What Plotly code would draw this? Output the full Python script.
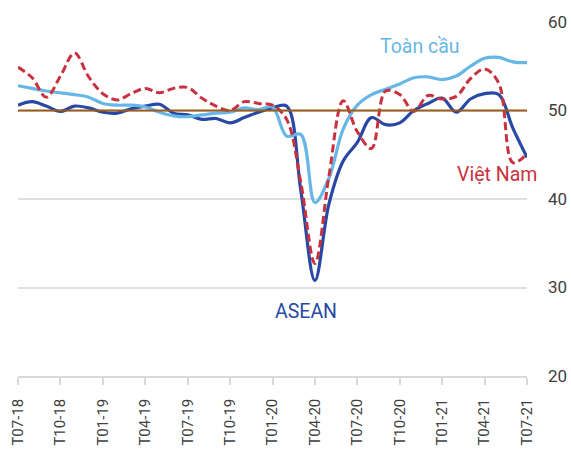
import plotly.graph_objects as go

month_idx = list(range(37))
tick_pos = list(range(0, 37, 3))
tick_labels = ["T07-18", "T10-18", "T01-19", "T04-19", "T07-19", "T10-19", "T01-20",
               "T04-20", "T07-20", "T10-20", "T01-21", "T04-21", "T07-21"]

vietnam = [54.9, 53.7, 51.5, 53.9, 56.5, 53.8, 51.9, 51.2, 51.9, 52.5, 52.0, 52.5, 52.6,
           51.4, 50.5, 50.0, 51.0, 50.8, 50.6, 49.0, 41.9, 32.7, 42.7, 51.1, 47.6, 45.7,
           52.2, 51.8, 49.9, 51.7, 51.3, 51.6, 53.6, 54.7, 53.1, 44.1, 45.1]
asean = [50.6, 51.0, 50.5, 49.9, 50.5, 50.3, 49.8, 49.7, 50.2, 50.5, 50.7, 49.7, 49.5,
         49.0, 49.1, 48.6, 49.2, 49.8, 50.3, 50.5, 41.0, 30.8, 39.5, 44.3, 46.4, 49.2,
         48.4, 48.6, 50.0, 50.8, 51.4, 49.8, 51.3, 51.9, 51.8, 48.0, 44.7]
global_pmi = [52.8, 52.5, 52.2, 52.0, 51.8, 51.5, 50.8, 50.6, 50.6, 50.4, 49.8, 49.4, 49.3,
              49.5, 49.7, 49.8, 50.3, 50.1, 50.4, 47.1, 47.3, 39.6, 42.4, 47.9, 50.6, 51.8,
              52.4, 53.0, 53.7, 53.8, 53.5, 53.9, 55.0, 55.9, 56.0, 55.5, 55.4]
threshold = [50] * 37

C_GLOBAL = "#67B7E6"
C_ASEAN = "#2748A4"
C_VN = "#C8323E"
C_50 = "#9A5B1C"

fig = go.Figure()
fig.add_trace(go.Scatter(x=month_idx, y=asean, mode="lines", name="ASEAN",
                         line=dict(color=C_ASEAN, width=3.2, shape="spline", smoothing=1)))
fig.add_trace(go.Scatter(x=month_idx, y=global_pmi, mode="lines", name="Toàn cầu",
                         line=dict(color=C_GLOBAL, width=3.2, shape="spline", smoothing=1)))
fig.add_trace(go.Scatter(x=month_idx, y=vietnam, mode="lines", name="Việt Nam",
                         line=dict(color=C_VN, width=3, dash="8px,4px", shape="spline", smoothing=1)))
fig.add_trace(go.Scatter(x=month_idx, y=threshold, mode="lines", name="50",
                         line=dict(color=C_50, width=2)))

font_family = "Roboto, Arial, sans-serif"
fig.add_annotation(x=28.4, y=57.2, text="Toàn cầu", showarrow=False,
                   font=dict(color=C_GLOBAL, size=19.5, family=font_family))
fig.add_annotation(x=33.9, y=42.8, text="Việt Nam", showarrow=False,
                   font=dict(color=C_VN, size=19.5, family=font_family))
fig.add_annotation(x=20.4, y=27.3, text="ASEAN", showarrow=False,
                   font=dict(color=C_ASEAN, size=19.5, family=font_family))

fig.update_layout(
    width=571, height=459,
    margin=dict(l=18, r=44, t=22, b=83, autoexpand=False),
    paper_bgcolor="white", plot_bgcolor="white",
    showlegend=False,
    font=dict(family=font_family, color="#404040"),
    xaxis=dict(range=[0, 36], tickmode="array", tickvals=tick_pos, ticktext=tick_labels,
               tickangle=-90, tickfont=dict(size=15, color="#404040"), automargin=False,
               showgrid=False, zeroline=False, showline=True, linecolor="#D9D9D9", linewidth=1.5,
               ticks="outside", ticklen=7, tickcolor="#D9D9D9", tickwidth=1.5,
               ticklabelstandoff=8),
    yaxis=dict(range=[20, 60], side="right", tickvals=[20, 30, 40, 50, 60],
               tickfont=dict(size=17, color="#404040"), automargin=False,
               showgrid=True, gridcolor="#E0E0E0", gridwidth=1.5, zeroline=False,
               showline=False, ticks="", ticklabelstandoff=20),
)

fig.write_html("out.html", config={"displayModeBar": False},
               post_script="document.body.style.margin='0';document.body.style.overflow='hidden';")
